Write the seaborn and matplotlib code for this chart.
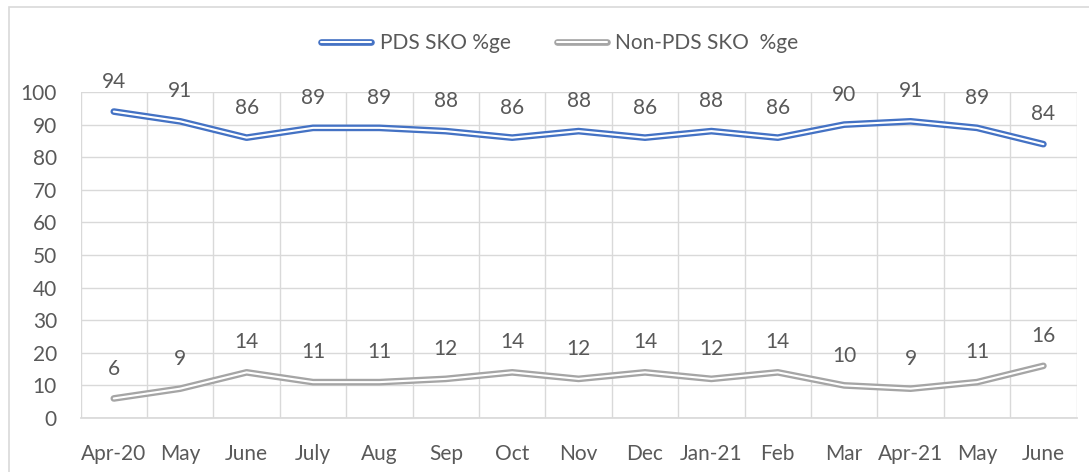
import matplotlib
matplotlib.use("Agg")
import matplotlib.pyplot as plt
import matplotlib.patheffects as pe
from matplotlib.lines import Line2D
from matplotlib.patches import Rectangle
import seaborn as sns
import pandas as pd

months = ["Apr-20", "May", "June", "July", "Aug", "Sep", "Oct", "Nov", "Dec",
          "Jan-21", "Feb", "Mar", "Apr-21", "May", "June"]
pds = [94, 91, 86, 89, 89, 88, 86, 88, 86, 88, 86, 90, 91, 89, 84]
non_pds = [6, 9, 14, 11, 11, 12, 14, 12, 14, 12, 14, 10, 9, 11, 16]
series_names = ["PDS SKO %ge", "Non-PDS SKO  %ge"]
colors = {"PDS SKO %ge": "#4472C4", "Non-PDS SKO  %ge": "#A5A5A5"}

sns.set_theme(style="white")
plt.rcParams["font.family"] = ["Lato", "DejaVu Sans"]
TXT = "#595959"
GRID = "#D9D9D9"
FS = 15

df = pd.DataFrame({
    "idx": list(range(len(months))) * 2,
    "value": pds + non_pds,
    "series": [series_names[0]] * len(months) + [series_names[1]] * len(months),
})

fig = plt.figure(figsize=(10.89, 4.72), dpi=100)
ax = fig.add_axes([80.6 / 1089, 54 / 472, 996 / 1089, 326 / 472])

sns.lineplot(data=df, x="idx", y="value", hue="series", palette=colors,
             hue_order=series_names, ax=ax, legend=False, linewidth=1.5)

for line, name in zip(ax.lines, series_names):
    c = colors[name]
    line.set_color("white")
    line.set_linewidth(1.5)
    line.set_solid_joinstyle("round")
    line.set_path_effects([pe.Stroke(linewidth=4.8, foreground=c), pe.Normal()])

for vals in (pds, non_pds):
    for i, v in enumerate(vals):
        ax.annotate(f"{v}", (i, v), xytext=(0, 21.5), textcoords="offset points",
                    ha="center", va="center", fontsize=FS, color=TXT)

ax.set_xlim(-0.5, len(months) - 0.5)
ax.set_ylim(0, 100)
ax.set_yticks(range(0, 101, 10))
ax.set_xticks(range(len(months)))
ax.set_xticklabels(months)
ax.set_xticks([i - 0.5 for i in range(len(months) + 1)], minor=True)
ax.grid(axis="y", which="major", color=GRID, linewidth=1)
ax.grid(axis="x", which="minor", color=GRID, linewidth=1)
ax.set_axisbelow(True)
ax.tick_params(axis="both", which="both", length=0, labelsize=FS, labelcolor=TXT)
ax.tick_params(axis="x", pad=19)
ax.tick_params(axis="y", pad=17)
ax.set_xlabel("")
ax.set_ylabel("")
for s in ("top", "right", "left"):
    ax.spines[s].set_visible(False)
ax.spines["bottom"].set_color(GRID)

handles = []
for name in series_names:
    h = Line2D([0], [0], color="white", linewidth=1.5,
               path_effects=[pe.Stroke(linewidth=4.8, foreground=colors[name]), pe.Normal()])
    handles.append(h)
fig.legend(handles, series_names, loc="center", bbox_to_anchor=(0.514, 0.909),
           ncol=2, frameon=False, fontsize=FS, labelcolor=TXT,
           handlelength=2.4, handletextpad=0.4, columnspacing=2.2)

fig.patches.append(Rectangle((9 / 1089, -0.1), 1.2, 1.1 - 7 / 472,
                             transform=fig.transFigure, fill=False,
                             edgecolor=GRID, linewidth=1.2, clip_on=False))

fig.savefig("out.png", dpi=100)
